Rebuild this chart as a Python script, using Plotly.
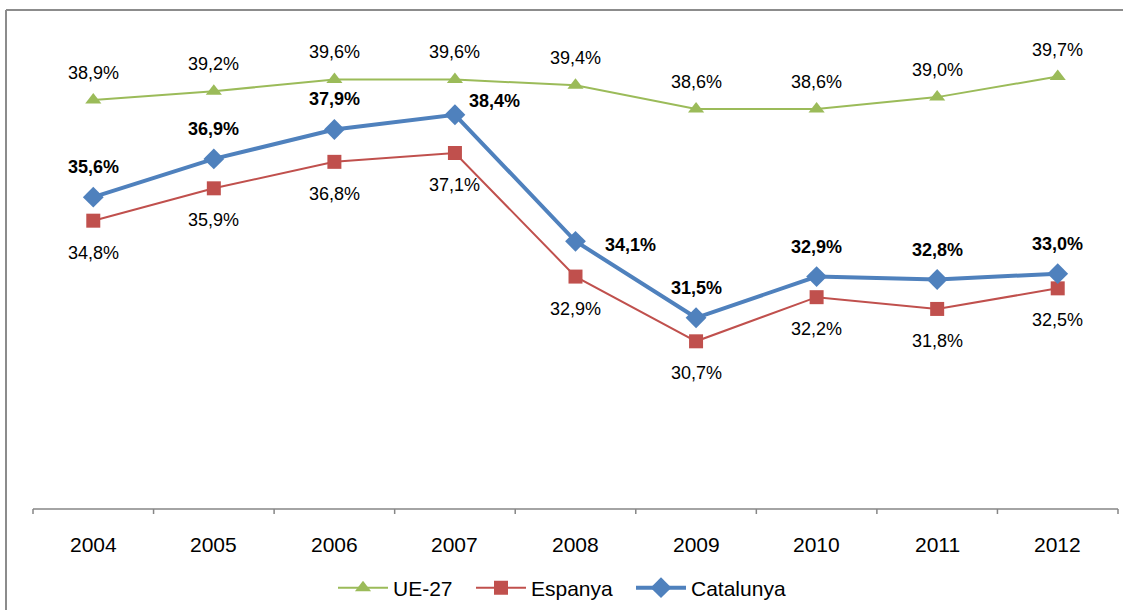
import plotly.graph_objects as go

years = ["2004", "2005", "2006", "2007", "2008", "2009", "2010", "2011", "2012"]
ue27 = [38.9, 39.2, 39.6, 39.6, 39.4, 38.6, 38.6, 39.0, 39.7]
espanya = [34.8, 35.9, 36.8, 37.1, 32.9, 30.7, 32.2, 31.8, 32.5]
catalunya = [35.6, 36.9, 37.9, 38.4, 34.1, 31.5, 32.9, 32.8, 33.0]

W, H = 1123, 610
L, R_PX, T_PX, B_PX = 33, 1118, 10, 509
PX_PER_UNIT = 29.42
YMIN = 25.0
YMAX = YMIN + (B_PX - T_PX) / PX_PER_UNIT

GREEN = "#9BBB59"
RED = "#C0504D"
BLUE = "#4F81BD"
BORDER = "#8C8C8C"
AXIS = "#868686"
FONT = "Liberation Sans, Arial, sans-serif"

def fmt(v):
    return f"{v:.1f}".replace(".", ",") + "%"

def px_x(p):
    return (p - L) / (R_PX - L)

def px_y(p):
    return (B_PX - p) / (B_PX - T_PX)

xs = list(range(len(years)))

fig = go.Figure()
fig.add_trace(go.Scatter(
    x=xs, y=ue27, name="UE-27", mode="lines+markers", legend="legend",
    line=dict(color=GREEN, width=2),
    marker=dict(symbol="triangle-up", size=14, color=GREEN),
))
fig.add_trace(go.Scatter(
    x=xs, y=espanya, name="Espanya", mode="lines+markers", legend="legend2",
    line=dict(color=RED, width=2),
    marker=dict(symbol="square", size=14, color=RED),
))
fig.add_trace(go.Scatter(
    x=xs, y=catalunya, name="Catalunya", mode="lines+markers", legend="legend3",
    line=dict(color=BLUE, width=4),
    marker=dict(symbol="diamond", size=16, color=BLUE),
))

LBL = dict(family=FONT, size=18, color="#000000")
annotations = []
for i, v in enumerate(ue27):
    annotations.append(dict(x=i, y=v, text=fmt(v), showarrow=False, yshift=27, font=LBL))
for i, v in enumerate(espanya):
    annotations.append(dict(x=i, y=v, text=fmt(v), showarrow=False, yshift=-32, font=LBL))
cat_shift = {3: (40, 14), 4: (55, -4)}
for i, v in enumerate(catalunya):
    xsft, ysft = cat_shift.get(i, (0, 30))
    annotations.append(dict(x=i, y=v, text="<b>" + fmt(v) + "</b>", showarrow=False,
                            xshift=xsft, yshift=ysft, font=LBL))
# category tick labels under the axis
for i, yr in enumerate(years):
    annotations.append(dict(x=i, y=YMIN, yref="y", text=yr, showarrow=False, yshift=-35,
                            font=dict(family=FONT, size=21, color="#000000")))

shapes = [
    dict(type="line", xref="paper", yref="paper",
         x0=px_x(6), x1=px_x(1123), y0=px_y(10), y1=px_y(10),
         line=dict(color=BORDER, width=2), layer="above"),
    dict(type="line", xref="paper", yref="paper",
         x0=px_x(6), x1=px_x(6), y0=px_y(10), y1=px_y(610),
         line=dict(color=BORDER, width=2), layer="above"),
    # category axis line
    dict(type="line", xref="paper", yref="paper", x0=0, x1=1, y0=0, y1=0,
         line=dict(color=AXIS, width=1.5), layer="above"),
]
# tick marks on category boundaries
for b in range(len(years) + 1):
    shapes.append(dict(type="line", xref="paper", yref="paper",
                       x0=b / len(years), x1=b / len(years),
                       y0=0, y1=px_y(B_PX + 5),
                       line=dict(color=AXIS, width=1.5), layer="above"))

def leg(xpx):
    return dict(orientation="h", x=px_x(xpx), xanchor="left", y=px_y(588), yanchor="middle",
                itemwidth=50, font=dict(family=FONT, size=21, color="#000000"),
                bgcolor="rgba(0,0,0,0)")

fig.update_layout(
    width=W, height=H,
    margin=dict(l=L, r=W - R_PX, t=T_PX, b=H - B_PX, pad=0, autoexpand=False),
    paper_bgcolor="white", plot_bgcolor="white",
    font=dict(family=FONT, color="#000000"),
    showlegend=True,
    legend=leg(333), legend2=leg(471), legend3=leg(631),
    xaxis=dict(range=[-0.5, len(years) - 0.5], visible=False, showgrid=False,
               zeroline=False, showline=False, fixedrange=True),
    yaxis=dict(range=[YMIN, YMAX], visible=False, showgrid=False, zeroline=False,
               showline=False, fixedrange=True),
    annotations=annotations,
    shapes=shapes,
)

fig.write_html("out.html",
               config={"displayModeBar": False},
               post_script="document.body.style.margin='0';document.body.style.overflow='hidden';")
